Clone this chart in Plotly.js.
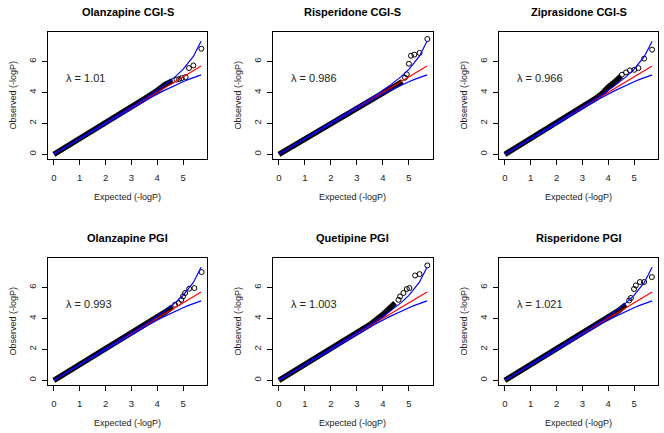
<!DOCTYPE html>
<html><head><meta charset="utf-8">
<script src="https://cdn.plot.ly/plotly-3.0.1.min.js"></script>
<style>html,body{margin:0;padding:0;background:#fff}#chart{width:664px;height:433px}</style>
</head><body><div id="chart"></div>
<script>
// ---------- data ----------
const panelTitles = ["Olanzapine CGI-S", "Risperidone CGI-S", "Ziprasidone CGI-S",
                     "Olanzapine PGI", "Quetipine PGI", "Risperidone PGI"];
const lambdaLabels = ["λ = 1.01", "λ = 0.986", "λ = 0.966", "λ = 0.993", "λ = 1.003", "λ = 1.021"];
const xTickVals = [0, 1, 2, 3, 4, 5];
const yTickVals = [0, 2, 4, 6];
const xAxisLabel = "Expected (-logP)";
const yAxisLabel = "Observed (-logP)";

// expected-under-null diagonal (red)
const nullExpected = [0, 5.7];
const nullObserved = [0, 5.7];
// 95% confidence band (blue), same in every panel
const ciExpected = [0, 2.7, 3.22, 3.7, 4.22, 4.4, 4.7, 5.0, 5.22, 5.4, 5.7];
const ciUpper    = [0, 2.73, 3.28, 3.79, 4.39, 4.61, 5.02, 5.49, 5.91, 6.32, 7.3];
const ciLower    = [0, 2.67, 3.18, 3.62, 4.08, 4.23, 4.47, 4.69, 4.84, 4.95, 5.13];

// dense bulk of points (drawn as a solid band) and individual tail points
const p1BulkX = [0, 1, 2, 3, 3.5, 4.0, 4.3, 4.6];
const p1BulkY = [0, 1, 2, 3.02, 3.58, 4.12, 4.5, 4.75];
const p1TailX = [4.75, 4.85, 4.95, 5.1, 5.23, 5.4, 5.71];
const p1TailY = [4.82, 4.86, 4.92, 4.99, 5.57, 5.74, 6.82];

const p2BulkX = [0, 1, 2, 3, 3.5, 4.0, 4.5, 4.75];
const p2BulkY = [0, 1, 2, 3.0, 3.5, 3.98, 4.45, 4.7];
const p2TailX = [4.85, 4.92, 5.0, 5.08, 5.21, 5.41, 5.71];
const p2TailY = [4.95, 5.17, 5.85, 6.37, 6.44, 6.55, 7.45];

const p3BulkX = [0, 1, 2, 3, 3.5, 3.8, 4.0, 4.3, 4.5];
const p3BulkY = [0, 1, 2, 3.03, 3.6, 3.98, 4.35, 4.75, 5.05];
const p3TailX = [4.53, 4.69, 4.84, 5.01, 5.17, 5.39, 5.7];
const p3TailY = [5.14, 5.29, 5.42, 5.46, 5.57, 6.18, 6.76];

const p4BulkX = [0, 1, 2, 3, 3.5, 4.0, 4.3, 4.6];
const p4BulkY = [0, 1, 2, 3.02, 3.55, 4.1, 4.4, 4.75];
const p4TailX = [4.69, 4.83, 4.93, 5.0, 5.08, 5.24, 5.44, 5.72];
const p4TailY = [4.88, 4.99, 5.2, 5.42, 5.64, 5.92, 5.96, 6.99];

const p5BulkX = [0, 1, 2, 3, 3.5, 4.0, 4.27, 4.47];
const p5BulkY = [0, 1, 2, 3.05, 3.6, 4.25, 4.67, 4.99];
const p5TailX = [4.6, 4.66, 4.79, 4.92, 5.02, 5.24, 5.41, 5.71];
const p5TailY = [5.2, 5.42, 5.64, 5.9, 5.96, 6.77, 6.86, 7.42];

const p6BulkX = [0, 1, 2, 3, 3.5, 4.0, 4.4, 4.69];
const p6BulkY = [0, 1, 2, 3.03, 3.55, 4.08, 4.5, 4.88];
const p6TailX = [4.81, 4.88, 5.0, 5.07, 5.23, 5.39, 5.69];
const p6TailY = [5.16, 5.32, 5.9, 6.13, 6.35, 6.35, 6.67];

const bulkX = [p1BulkX, p2BulkX, p3BulkX, p4BulkX, p5BulkX, p6BulkX];
const bulkY = [p1BulkY, p2BulkY, p3BulkY, p4BulkY, p5BulkY, p6BulkY];
const tailX = [p1TailX, p2TailX, p3TailX, p4TailX, p5TailX, p6TailX];
const tailY = [p1TailY, p2TailY, p3TailY, p4TailY, p5TailY, p6TailY];
const lambdaPos = [0.4, 4.93];

// ---------- layout (pixels) ----------
const W = 664, H = 433;
const colPx = [[48, 207], [273, 433], [499, 658]];
const rowPx = [[32, 159], [258, 385]];
const FONT = "Liberation Sans, Arial, Helvetica, sans-serif";

const traces = [];
const annotations = [];
const layout = {
  width: W, height: H,
  margin: {l: 0, r: 0, t: 0, b: 0},
  paper_bgcolor: "#fff", plot_bgcolor: "#fff",
  showlegend: false,
  font: {family: FONT, color: "#222"},
  annotations: annotations
};

for (let i = 0; i < 6; i++) {
  const r = Math.floor(i / 3), c = i % 3;
  const n = i + 1;
  const xa = "x" + (n === 1 ? "" : n), ya = "y" + (n === 1 ? "" : n);
  const xKey = "xaxis" + (n === 1 ? "" : n), yKey = "yaxis" + (n === 1 ? "" : n);
  const xd = [colPx[c][0] / W, colPx[c][1] / W];
  const yd = [1 - rowPx[r][1] / H, 1 - rowPx[r][0] / H];

  layout[xKey] = {
    domain: xd, anchor: ya, range: [-0.228, 5.928],
    tickvals: xTickVals, ticktext: xTickVals.map(String),
    ticks: "outside", ticklen: 5, tickwidth: 1, tickcolor: "#000",
    showline: true, mirror: true, linecolor: "#000", linewidth: 1,
    showgrid: false, zeroline: false,
    tickfont: {size: 9.5, family: FONT, color: "#222"},
    ticklabelstandoff: 5
  };
  layout[yKey] = {
    domain: yd, anchor: xa, range: [-0.3, 7.9],
    tickvals: yTickVals, ticktext: yTickVals.map(String),
    ticks: "outside", ticklen: 5, tickwidth: 1, tickcolor: "#000",
    showline: true, mirror: true, linecolor: "#000", linewidth: 1,
    showgrid: false, zeroline: false, tickangle: -90,
    tickfont: {size: 9.5, family: FONT, color: "#222"},
    ticklabelstandoff: 2
  };

  traces.push({x: bulkX[i], y: bulkY[i], xaxis: xa, yaxis: ya, type: "scatter", mode: "lines",
    line: {color: "#000", width: 5.5}, hoverinfo: "skip"});
  traces.push({x: tailX[i], y: tailY[i], xaxis: xa, yaxis: ya, type: "scatter", mode: "markers",
    marker: {symbol: "circle-open", size: 5, color: "#000", line: {width: 1, color: "#000"}}, hoverinfo: "skip"});
  traces.push({x: nullExpected, y: nullObserved, xaxis: xa, yaxis: ya, type: "scatter", mode: "lines",
    line: {color: "#ff0000", width: 1.2}, hoverinfo: "skip"});
  traces.push({x: ciExpected, y: ciUpper, xaxis: xa, yaxis: ya, type: "scatter", mode: "lines",
    line: {color: "#0000ff", width: 1.2}, hoverinfo: "skip"});
  traces.push({x: ciExpected, y: ciLower, xaxis: xa, yaxis: ya, type: "scatter", mode: "lines",
    line: {color: "#0000ff", width: 1.2}, hoverinfo: "skip"});

  const cx = (colPx[c][0] + colPx[c][1]) / 2 / W;
  // panel title
  annotations.push({text: "<b>" + panelTitles[i] + "</b>", xref: "paper", yref: "paper",
    x: cx, y: 1 - (rowPx[r][0] - 20) / H, xanchor: "center", yanchor: "middle",
    showarrow: false, font: {size: 11, family: FONT, color: "#000"}});
  // x title
  annotations.push({text: xAxisLabel, xref: "paper", yref: "paper",
    x: cx, y: 1 - (rowPx[r][1] + 38) / H, xanchor: "center", yanchor: "middle",
    showarrow: false, font: {size: 9, family: FONT, color: "#222"}});
  // y title
  annotations.push({text: yAxisLabel, xref: "paper", yref: "paper", textangle: -90,
    x: (colPx[c][0] - 36) / W, y: 1 - (rowPx[r][0] + rowPx[r][1]) / 2 / H,
    xanchor: "center", yanchor: "middle",
    showarrow: false, font: {size: 9, family: FONT, color: "#222"}});
  // lambda
  annotations.push({text: lambdaLabels[i], xref: xa, yref: ya,
    x: lambdaPos[0], y: lambdaPos[1], xanchor: "left", yanchor: "middle",
    showarrow: false, font: {size: 11, family: FONT, color: "#222"}});
}

Plotly.newPlot("chart", traces, layout, {staticPlot: true, displayModeBar: false});
</script></body></html>
